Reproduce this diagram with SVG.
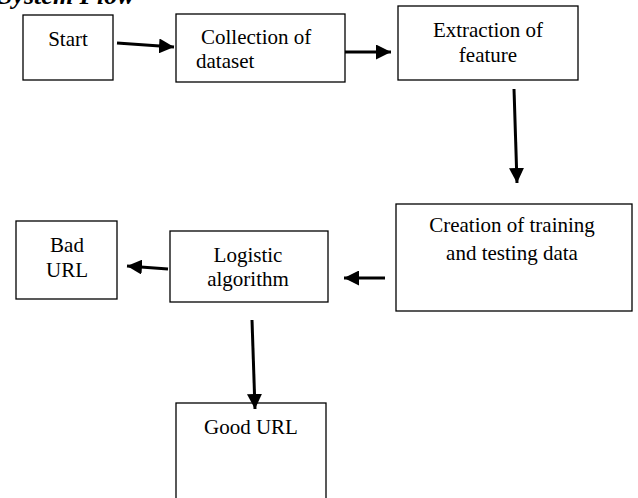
<svg xmlns="http://www.w3.org/2000/svg" width="638" height="498" viewBox="0 0 638 498">
<defs>
<marker id="ah" viewBox="0 0 10 10" refX="10" refY="5" markerWidth="5" markerHeight="5" orient="auto" markerUnits="strokeWidth">
<path d="M0,0 L10,5 L0,10 Z" fill="#000"/>
</marker>
<style>
.box{fill:#fff;stroke:#000;stroke-width:1.3}
.t{font-family:"Liberation Serif","Times New Roman",serif;font-size:21px;fill:#000}
.c{text-anchor:middle}
.ttl{font-family:"Liberation Serif","Times New Roman",serif;font-size:26px;font-weight:bold;font-style:italic;fill:#000}
.ln{stroke:#000;stroke-width:3;fill:none;marker-end:url(#ah)}
</style>
</defs>
<rect width="638" height="498" fill="#fff"/>
<text class="ttl" x="-2" y="4">System Flow</text>
<g id="start">
<rect class="box" x="23" y="15" width="90" height="65"/>
<text class="t c" x="68" y="46">Start</text>
</g>
<g id="collection">
<rect class="box" x="176" y="14" width="169" height="68"/>
<text class="t" x="201" y="44">Collection of</text>
<text class="t" x="196" y="68">dataset</text>
</g>
<g id="extraction">
<rect class="box" x="398" y="6" width="180" height="74"/>
<text class="t c" x="488" y="37">Extraction of</text>
<text class="t c" x="488" y="62">feature</text>
</g>
<g id="creation">
<rect class="box" x="396" y="204" width="236" height="107"/>
<text class="t c" x="512" y="232">Creation of training</text>
<text class="t c" x="512" y="260">and testing data</text>
</g>
<g id="logistic">
<rect class="box" x="170" y="231" width="158" height="71"/>
<text class="t c" x="248" y="262">Logistic</text>
<text class="t c" x="248" y="286">algorithm</text>
</g>
<g id="bad">
<rect class="box" x="16" y="221" width="101" height="78"/>
<text class="t c" x="67" y="252">Bad</text>
<text class="t c" x="67" y="277">URL</text>
</g>
<g id="good">
<rect class="box" x="176" y="403" width="150" height="110"/>
<text class="t c" x="251" y="434">Good URL</text>
</g>
<g id="connectors">
<line class="ln" x1="117" y1="43" x2="174" y2="47"/>
<line class="ln" x1="345" y1="52" x2="391" y2="52"/>
<line class="ln" x1="514" y1="89" x2="517" y2="183"/>
<line class="ln" x1="385" y1="278" x2="344" y2="278"/>
<line class="ln" x1="168" y1="269" x2="127" y2="266"/>
<line class="ln" x1="252" y1="320" x2="255" y2="409"/>
</g>
</svg>
